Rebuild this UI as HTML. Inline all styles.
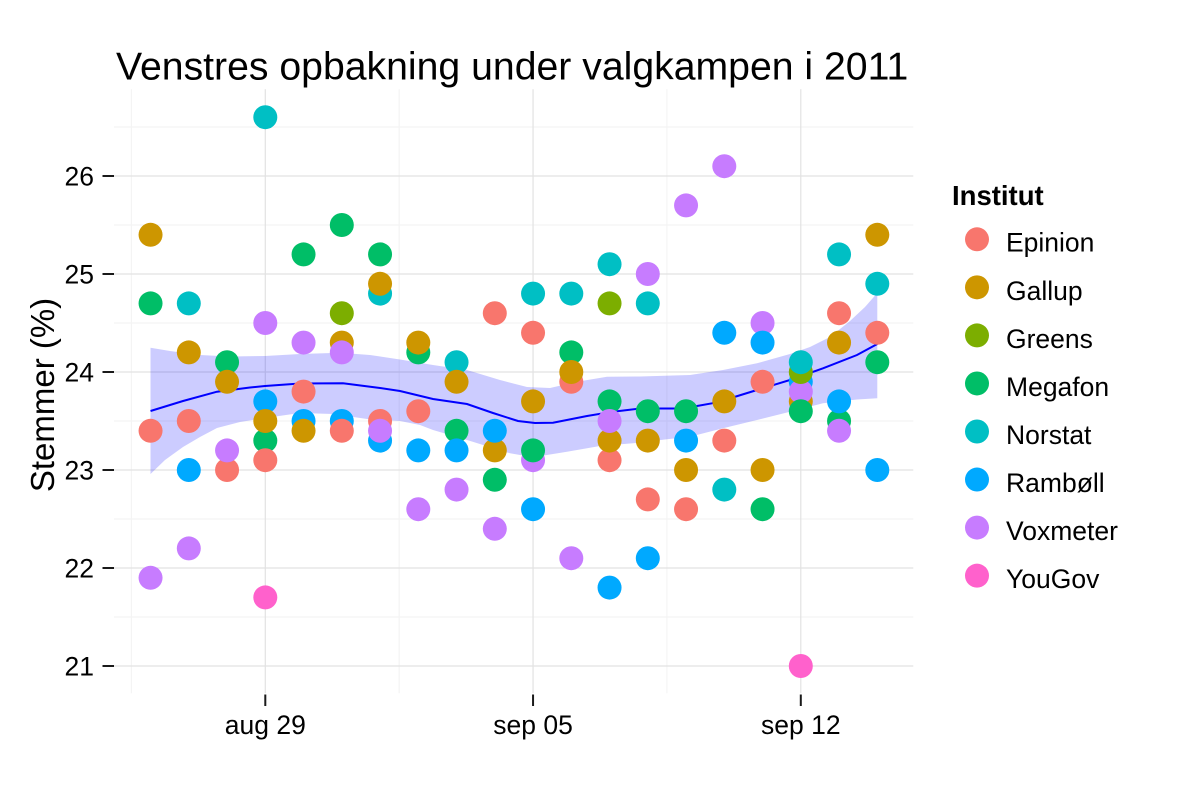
<!DOCTYPE html>
<html>
<head>
<meta charset="utf-8">
<style>
html,body{margin:0;padding:0;background:#fff;}
svg{display:block;}
text{font-family:"Liberation Sans",Arial,sans-serif;fill:#000;}
</style>
</head>
<body>
<svg width="1200" height="800" viewBox="0 0 1200 800" xmlns="http://www.w3.org/2000/svg">
<rect x="0" y="0" width="1200" height="800" fill="#fff"/>

<!-- minor gridlines -->
<g stroke="#f4f4f4" stroke-width="1.2">
  <line x1="114" x2="913.3" y1="617" y2="617"/>
  <line x1="114" x2="913.3" y1="519" y2="519"/>
  <line x1="114" x2="913.3" y1="421" y2="421"/>
  <line x1="114" x2="913.3" y1="323" y2="323"/>
  <line x1="114" x2="913.3" y1="225" y2="225"/>
  <line x1="114" x2="913.3" y1="127" y2="127"/>
  <line x1="131.4" x2="131.4" y1="89.3" y2="693.3"/>
  <line x1="399.2" x2="399.2" y1="89.3" y2="693.3"/>
  <line x1="666.9" x2="666.9" y1="89.3" y2="693.3"/>
</g>
<!-- major gridlines -->
<g stroke="#e2e2e2" stroke-width="1.2">
  <line x1="114" x2="913.3" y1="666" y2="666"/>
  <line x1="114" x2="913.3" y1="568" y2="568"/>
  <line x1="114" x2="913.3" y1="470" y2="470"/>
  <line x1="114" x2="913.3" y1="372" y2="372"/>
  <line x1="114" x2="913.3" y1="274" y2="274"/>
  <line x1="114" x2="913.3" y1="176" y2="176"/>
  <line x1="265.3" x2="265.3" y1="89.3" y2="693.3"/>
  <line x1="533.05" x2="533.05" y1="89.3" y2="693.3"/>
  <line x1="800.8" x2="800.8" y1="89.3" y2="693.3"/>
</g>

<!-- confidence ribbon -->
<polygon fill="#0000ff" fill-opacity="0.2" points="
150.5,347.7 170,351 200,355 230,356.5 265,356 300,354 340,352.7 370,355 400,359.5 433,365 467,370 500,380 527,387 550,388 577,381.7 607,376.7 640,376.5 673,375.5 690,375 723,370 757,363.3 790,354 810,347 830,337 850,321 865,307 877.3,293
877.3,398.3 857,399.5 823,403.3 790,411.7 757,420 723,428.3 690,436.7 667,439.3 633,443.3 600,446 567,451.7 533,457.3 510,453.3 467,440 433,430 420,425 400,421 367,419 333,414 300,413 265,418 240,422 217,428 200,437 183,447 165,460 150.5,474"/>

<!-- smooth line -->
<polyline fill="none" stroke="#0000ff" stroke-width="2" points="
150.5,411 183,401 217,391.7 250,387.5 265,386 300,383.5 343,383.3 380,388 400,391 433,399 467,404 493,413 518,421 535,423 553,422.7 587,416 613,411.7 640,408.5 680,408.5 697,406 712,403.3 723,400.5 757,390 790,380 823,368.3 857,355 877.3,344"/>

<!-- points -->
<g>
<circle cx="150.55" cy="303.4" r="12" fill="#00BE67"/>
<circle cx="150.55" cy="234.8" r="12" fill="#CD9600"/>
<circle cx="150.55" cy="430.8" r="12" fill="#F8766D"/>
<circle cx="150.55" cy="577.8" r="12" fill="#C77CFF"/>
<circle cx="188.8" cy="303.4" r="12" fill="#00BFC4"/>
<circle cx="188.8" cy="352.4" r="12" fill="#CD9600"/>
<circle cx="188.8" cy="421" r="12" fill="#F8766D"/>
<circle cx="188.8" cy="470" r="12" fill="#00A9FF"/>
<circle cx="188.8" cy="548.4" r="12" fill="#C77CFF"/>
<circle cx="227.05" cy="362.2" r="12" fill="#00BE67"/>
<circle cx="227.05" cy="381.8" r="12" fill="#CD9600"/>
<circle cx="227.05" cy="470" r="12" fill="#F8766D"/>
<circle cx="227.05" cy="450.4" r="12" fill="#C77CFF"/>
<circle cx="265.3" cy="117.2" r="12" fill="#00BFC4"/>
<circle cx="265.3" cy="323" r="12" fill="#C77CFF"/>
<circle cx="265.3" cy="401.4" r="12" fill="#00A9FF"/>
<circle cx="265.3" cy="440.6" r="12" fill="#00BE67"/>
<circle cx="265.3" cy="421" r="12" fill="#CD9600"/>
<circle cx="265.3" cy="460.2" r="12" fill="#F8766D"/>
<circle cx="265.3" cy="597.4" r="12" fill="#FF61CC"/>
<circle cx="303.55" cy="254.4" r="12" fill="#00BE67"/>
<circle cx="303.55" cy="342.6" r="12" fill="#C77CFF"/>
<circle cx="303.55" cy="391.6" r="12" fill="#F8766D"/>
<circle cx="303.55" cy="421" r="12" fill="#00A9FF"/>
<circle cx="303.55" cy="430.8" r="12" fill="#CD9600"/>
<circle cx="341.8" cy="225" r="12" fill="#00BE67"/>
<circle cx="341.8" cy="313.2" r="12" fill="#7CAE00"/>
<circle cx="341.8" cy="342.6" r="12" fill="#CD9600"/>
<circle cx="341.8" cy="352.4" r="12" fill="#C77CFF"/>
<circle cx="341.8" cy="421" r="12" fill="#00A9FF"/>
<circle cx="341.8" cy="430.8" r="12" fill="#F8766D"/>
<circle cx="380.05" cy="254.4" r="12" fill="#00BE67"/>
<circle cx="380.05" cy="293.6" r="12" fill="#00BFC4"/>
<circle cx="380.05" cy="283.8" r="12" fill="#CD9600"/>
<circle cx="380.05" cy="421" r="12" fill="#F8766D"/>
<circle cx="380.05" cy="440.6" r="12" fill="#00A9FF"/>
<circle cx="380.05" cy="430.8" r="12" fill="#C77CFF"/>
<circle cx="418.3" cy="352.4" r="12" fill="#00BE67"/>
<circle cx="418.3" cy="342.6" r="12" fill="#CD9600"/>
<circle cx="418.3" cy="411.2" r="12" fill="#F8766D"/>
<circle cx="418.3" cy="450.4" r="12" fill="#00A9FF"/>
<circle cx="418.3" cy="509.2" r="12" fill="#C77CFF"/>
<circle cx="456.55" cy="362.2" r="12" fill="#00BFC4"/>
<circle cx="456.55" cy="381.8" r="12" fill="#CD9600"/>
<circle cx="456.55" cy="430.8" r="12" fill="#00BE67"/>
<circle cx="456.55" cy="450.4" r="12" fill="#00A9FF"/>
<circle cx="456.55" cy="489.6" r="12" fill="#C77CFF"/>
<circle cx="494.8" cy="313.2" r="12" fill="#F8766D"/>
<circle cx="494.8" cy="450.4" r="12" fill="#CD9600"/>
<circle cx="494.8" cy="430.8" r="12" fill="#00A9FF"/>
<circle cx="494.8" cy="479.8" r="12" fill="#00BE67"/>
<circle cx="494.8" cy="528.8" r="12" fill="#C77CFF"/>
<circle cx="533.05" cy="293.6" r="12" fill="#00BFC4"/>
<circle cx="533.05" cy="332.8" r="12" fill="#F8766D"/>
<circle cx="533.05" cy="401.4" r="12" fill="#CD9600"/>
<circle cx="533.05" cy="460.2" r="12" fill="#C77CFF"/>
<circle cx="533.05" cy="450.4" r="12" fill="#00BE67"/>
<circle cx="533.05" cy="509.2" r="12" fill="#00A9FF"/>
<circle cx="571.3" cy="293.6" r="12" fill="#00BFC4"/>
<circle cx="571.3" cy="352.4" r="12" fill="#00BE67"/>
<circle cx="571.3" cy="381.8" r="12" fill="#F8766D"/>
<circle cx="571.3" cy="372" r="12" fill="#CD9600"/>
<circle cx="571.3" cy="558.2" r="12" fill="#C77CFF"/>
<circle cx="609.55" cy="264.2" r="12" fill="#00BFC4"/>
<circle cx="609.55" cy="303.4" r="12" fill="#7CAE00"/>
<circle cx="609.55" cy="401.4" r="12" fill="#00BE67"/>
<circle cx="609.55" cy="460.2" r="12" fill="#F8766D"/>
<circle cx="609.55" cy="440.6" r="12" fill="#CD9600"/>
<circle cx="609.55" cy="421" r="12" fill="#C77CFF"/>
<circle cx="609.55" cy="587.6" r="12" fill="#00A9FF"/>
<circle cx="647.8" cy="274" r="12" fill="#C77CFF"/>
<circle cx="647.8" cy="303.4" r="12" fill="#00BFC4"/>
<circle cx="647.8" cy="411.2" r="12" fill="#00BE67"/>
<circle cx="647.8" cy="440.6" r="12" fill="#CD9600"/>
<circle cx="647.8" cy="499.4" r="12" fill="#F8766D"/>
<circle cx="647.8" cy="558.2" r="12" fill="#00A9FF"/>
<circle cx="686.05" cy="205.4" r="12" fill="#C77CFF"/>
<circle cx="686.05" cy="411.2" r="12" fill="#00BE67"/>
<circle cx="686.05" cy="440.6" r="12" fill="#00A9FF"/>
<circle cx="686.05" cy="470" r="12" fill="#CD9600"/>
<circle cx="686.05" cy="509.2" r="12" fill="#F8766D"/>
<circle cx="724.3" cy="166.2" r="12" fill="#C77CFF"/>
<circle cx="724.3" cy="332.8" r="12" fill="#00A9FF"/>
<circle cx="724.3" cy="401.4" r="12" fill="#CD9600"/>
<circle cx="724.3" cy="440.6" r="12" fill="#F8766D"/>
<circle cx="724.3" cy="489.6" r="12" fill="#00BFC4"/>
<circle cx="762.55" cy="323" r="12" fill="#C77CFF"/>
<circle cx="762.55" cy="342.6" r="12" fill="#00A9FF"/>
<circle cx="762.55" cy="381.8" r="12" fill="#F8766D"/>
<circle cx="762.55" cy="470" r="12" fill="#CD9600"/>
<circle cx="762.55" cy="509.2" r="12" fill="#00BE67"/>
<circle cx="800.8" cy="381.8" r="12" fill="#00A9FF"/>
<circle cx="800.8" cy="401.4" r="12" fill="#CD9600"/>
<circle cx="800.8" cy="391.6" r="12" fill="#C77CFF"/>
<circle cx="800.8" cy="372" r="12" fill="#7CAE00"/>
<circle cx="800.8" cy="362.2" r="12" fill="#00BFC4"/>
<circle cx="800.8" cy="411.2" r="12" fill="#00BE67"/>
<circle cx="800.8" cy="666" r="12" fill="#FF61CC"/>
<circle cx="839.05" cy="254.4" r="12" fill="#00BFC4"/>
<circle cx="839.05" cy="313.2" r="12" fill="#F8766D"/>
<circle cx="839.05" cy="342.6" r="12" fill="#CD9600"/>
<circle cx="839.05" cy="421" r="12" fill="#00BE67"/>
<circle cx="839.05" cy="401.4" r="12" fill="#00A9FF"/>
<circle cx="839.05" cy="430.8" r="12" fill="#C77CFF"/>
<circle cx="877.3" cy="234.8" r="12" fill="#CD9600"/>
<circle cx="877.3" cy="283.8" r="12" fill="#00BFC4"/>
<circle cx="877.3" cy="332.8" r="12" fill="#F8766D"/>
<circle cx="877.3" cy="362.2" r="12" fill="#00BE67"/>
<circle cx="877.3" cy="470" r="12" fill="#00A9FF"/>
</g>

<!-- axis ticks -->
<g stroke="#1a1a1a" stroke-width="2">
  <line x1="102.5" x2="114" y1="666" y2="666"/>
  <line x1="102.5" x2="114" y1="568" y2="568"/>
  <line x1="102.5" x2="114" y1="470" y2="470"/>
  <line x1="102.5" x2="114" y1="372" y2="372"/>
  <line x1="102.5" x2="114" y1="274" y2="274"/>
  <line x1="102.5" x2="114" y1="176" y2="176"/>
  <line x1="265.3" x2="265.3" y1="694.5" y2="706"/>
  <line x1="533.05" x2="533.05" y1="694.5" y2="706"/>
  <line x1="800.8" x2="800.8" y1="694.5" y2="706"/>
</g>

<!-- y tick labels -->
<g font-size="26.5" text-anchor="end">
  <text x="94" y="675.5">21</text>
  <text x="94" y="577.5">22</text>
  <text x="94" y="479.5">23</text>
  <text x="94" y="381.5">24</text>
  <text x="94" y="283.5">25</text>
  <text x="94" y="185.5">26</text>
</g>
<!-- x tick labels -->
<g font-size="26.5" text-anchor="middle">
  <text x="265.3" y="734">aug 29</text>
  <text x="533.05" y="734">sep 05</text>
  <text x="800.8" y="734">sep 12</text>
</g>

<!-- y axis title -->
<text font-size="33" text-anchor="middle" transform="translate(54,395) rotate(-90)">Stemmer (%)</text>

<!-- title -->
<text x="116" y="79.3" font-size="39.2">Venstres opbakning under valgkampen i 2011</text>

<!-- legend -->
<text x="952" y="205" font-size="27.5" font-weight="bold">Institut</text>
<g>
  <circle cx="977" cy="239.3" r="12" fill="#F8766D"/>
  <circle cx="977" cy="287.35" r="12" fill="#CD9600"/>
  <circle cx="977" cy="335.4" r="12" fill="#7CAE00"/>
  <circle cx="977" cy="383.45" r="12" fill="#00BE67"/>
  <circle cx="977" cy="431.5" r="12" fill="#00BFC4"/>
  <circle cx="977" cy="479.55" r="12" fill="#00A9FF"/>
  <circle cx="977" cy="527.6" r="12" fill="#C77CFF"/>
  <circle cx="977" cy="575.65" r="12" fill="#FF61CC"/>
</g>
<g font-size="26.5">
  <text x="1006" y="251.7">Epinion</text>
  <text x="1006" y="299.75">Gallup</text>
  <text x="1006" y="347.8">Greens</text>
  <text x="1006" y="395.85">Megafon</text>
  <text x="1006" y="443.9">Norstat</text>
  <text x="1006" y="491.95">Rambøll</text>
  <text x="1006" y="540">Voxmeter</text>
  <text x="1006" y="588.05">YouGov</text>
</g>
</svg>
</body>
</html>
